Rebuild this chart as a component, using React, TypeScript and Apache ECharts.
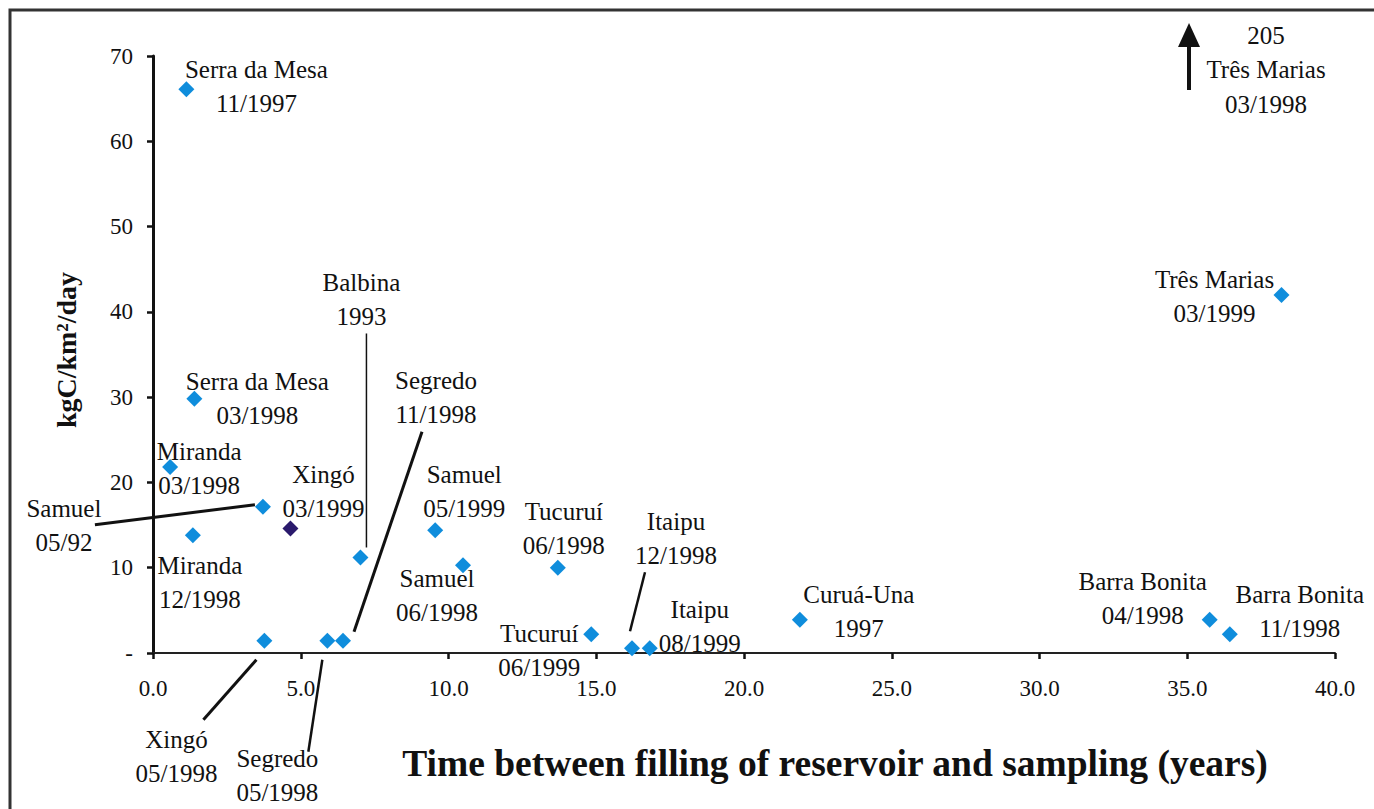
import React, { useEffect, useRef } from "react";
import * as echarts from "echarts";

// ---- data ----
const reservoirs = [
  "Serra da Mesa", "Serra da Mesa", "Miranda", "Miranda", "Samuel", "Xingó", "Balbina",
  "Xingó", "Segredo", "Segredo", "Samuel", "Samuel", "Tucuruí", "Tucuruí", "Itaipu",
  "Itaipu", "Curuá-Una", "Barra Bonita", "Barra Bonita", "Três Marias", "Três Marias",
];
const samplingDates = [
  "11/1997", "03/1998", "03/1998", "12/1998", "05/92", "03/1999", "1993",
  "05/1998", "05/1998", "11/1998", "05/1999", "06/1998", "06/1998", "06/1999", "12/1998",
  "08/1999", "1997", "04/1998", "11/1998", "03/1999", "03/1998",
];
const yearsSinceFilling = [
  1.13, 1.4, 0.58, 1.35, 3.72, 4.65, 7.02, 3.77, 5.9, 6.43, 9.55, 10.49, 13.7, 14.83, 16.21,
  16.81, 21.89, 35.76, 36.44, 38.19, 35.06,
];
const carbonFlux = [
  66.1, 29.8, 21.8, 13.8, 17.15, 14.6, 11.2, 1.44, 1.44, 1.44, 14.4, 10.3, 10.0, 2.2, 0.55,
  0.55, 3.9, 3.9, 2.2, 41.97, 205,
];
const highlighted = [5]; // Xingó 03/1999 drawn in dark purple
const xTicks = [0, 5, 10, 15, 20, 25, 30, 35, 40];
const yTicks = [0, 10, 20, 30, 40, 50, 60, 70];
const xTitle = "Time between filling of reservoir and sampling (years)";
const yTitle = "kgC/km²/day";

// ---- layout (pixel offsets of labels/leaders from their points) ----
const labelOffsets: [number, number][] = [
  [70, -3], [63, 0], [29, 1], [7, 47], [-199, 19], [33, -37], [1, -258], [-88, 116], [-50, 135],
  [93, -243], [29, -39], [-26, 30], [6, -39], [-52, 16], [44, -110], [50, -22], [59, -8],
  [-67, -21], [70, -23], [-67, 1],
];
const leaderLines = [
  { i: 4, from: [-168, 18], to: [-8, -2], w: 3 },
  { i: 6, from: [6, -224], to: [6, -10], w: 1.5 },
  { i: 9, from: [79, -209], to: [11, -9], w: 3 },
  { i: 7, from: [-8, 19], to: [-61, 79], w: 3 },
  { i: 8, from: [-5, 19], to: [-19, 111], w: 2.5 },
  { i: 14, from: [13, -76], to: [-2, -17], w: 2.5 },
];

const FONT = "'Liberation Serif', 'Times New Roman', serif";
const TXT = "#111";
const BLUE = "#0f8ddc";
const PURPLE = "#2a1a6c";
const Y_MAX = yTicks[yTicks.length - 1];

export default function App() {
  const ref = useRef<HTMLDivElement>(null);
  useEffect(() => {
    const chart = echarts.init(ref.current!, null, { renderer: "svg" });
    const onScale = reservoirs
      .map((r, i) => i)
      .filter((i) => carbonFlux[i] <= Y_MAX);
    const data = onScale.map((i) => ({
      value: [yearsSinceFilling[i], carbonFlux[i]],
      itemStyle: { color: highlighted.includes(i) ? PURPLE : BLUE, opacity: 1 },
      label: {
        show: true,
        position: ["50%", "50%"],
        align: "center",
        verticalAlign: "middle",
        offset: labelOffsets[i],
        formatter: reservoirs[i] + "\n" + samplingDates[i],
      },
    }));

    chart.setOption({
      animation: false,
      backgroundColor: "#fff",
      grid: { left: 153, right: 39, top: 56, bottom: 156, containLabel: false },
      xAxis: {
        type: "value",
        min: xTicks[0],
        max: xTicks[xTicks.length - 1],
        interval: xTicks[1] - xTicks[0],
        splitLine: { show: false },
        axisLine: { lineStyle: { color: "#222", width: 2 } },
        axisTick: { show: true, length: 6, lineStyle: { color: "#111", width: 2.5 } },
        axisLabel: {
          formatter: (v: number) => v.toFixed(1),
          color: TXT, fontFamily: FONT, fontSize: 23, margin: 24,
          showMinLabel: true, showMaxLabel: true,
        },
      },
      yAxis: {
        type: "value",
        min: yTicks[0],
        max: Y_MAX,
        interval: yTicks[1] - yTicks[0],
        splitLine: { show: false },
        axisLine: { show: true, lineStyle: { color: "#111", width: 3 } },
        axisTick: { show: true, length: 6, lineStyle: { color: "#111", width: 2.5 } },
        axisLabel: {
          formatter: (v: number) => (v === 0 ? "-" : String(v)),
          color: TXT, fontFamily: FONT, fontSize: 23, margin: 20,
        },
      },
      series: [
        {
          type: "scatter",
          symbol: "diamond",
          symbolSize: 16,
          clip: true,
          data,
          itemStyle: { opacity: 1 },
          label: {
            color: TXT, fontFamily: FONT, fontSize: 25, lineHeight: 34,
          },
          emphasis: { disabled: true },
        },
      ],
    });

    const toPx = (x: number, y: number) =>
      chart.convertToPixel({ gridIndex: 0 }, [x, y]) as number[];

    const graphics: any[] = [
      {
        type: "rect",
        shape: { x: 10, y: 10, width: 1500, height: 1000 },
        style: { fill: "none", stroke: "#333", lineWidth: 3 },
        silent: true,
      },
      {
        type: "text",
        x: 835,
        y: 763,
        style: {
          text: xTitle, fill: "#111", font: `bold 37.5px ${FONT}`,
          align: "center", verticalAlign: "middle",
        },
        silent: true,
      },
      {
        type: "text",
        x: 66,
        y: 350,
        rotation: Math.PI / 2,
        style: {
          text: yTitle, fill: "#111", font: `bold 28px ${FONT}`,
          align: "center", verticalAlign: "middle",
        },
        silent: true,
      },
    ];
    leaderLines.forEach((l) => {
      const p = toPx(yearsSinceFilling[l.i], carbonFlux[l.i]);
      graphics.push({
        type: "line",
        shape: { x1: p[0] + l.from[0], y1: p[1] + l.from[1], x2: p[0] + l.to[0], y2: p[1] + l.to[1] },
        style: { stroke: "#111", lineWidth: l.w },
        silent: true,
      });
    });
    // off-scale points: arrow + label at the top of the plot
    reservoirs.forEach((r, i) => {
      if (carbonFlux[i] <= Y_MAX) return;
      const p = toPx(yearsSinceFilling[i], Y_MAX);
      const ax = p[0];
      const top = p[1];
      graphics.push(
        {
          type: "line",
          shape: { x1: ax, y1: top + 34, x2: ax, y2: top - 12 },
          style: { stroke: "#111", lineWidth: 4 },
          silent: true,
        },
        {
          type: "polygon",
          shape: { points: [[ax - 11, top - 9], [ax + 11, top - 9], [ax, top - 33]] },
          style: { fill: "#111" },
          silent: true,
        },
        {
          type: "text",
          x: ax + 77,
          y: top + 13.5,
          style: {
            text: String(carbonFlux[i]) + "\n" + r + "\n" + samplingDates[i],
            fill: TXT,
            font: `25px ${FONT}`,
            lineHeight: 34.5,
            align: "center",
            verticalAlign: "middle",
          },
          silent: true,
        }
      );
    });
    chart.setOption({ graphic: graphics });

    return () => chart.dispose();
  }, []);
  return (
    <div
      ref={ref}
      style={{ position: "fixed", left: 0, top: 0, width: 1374, height: 809, background: "#fff" }}
    />
  );
}
